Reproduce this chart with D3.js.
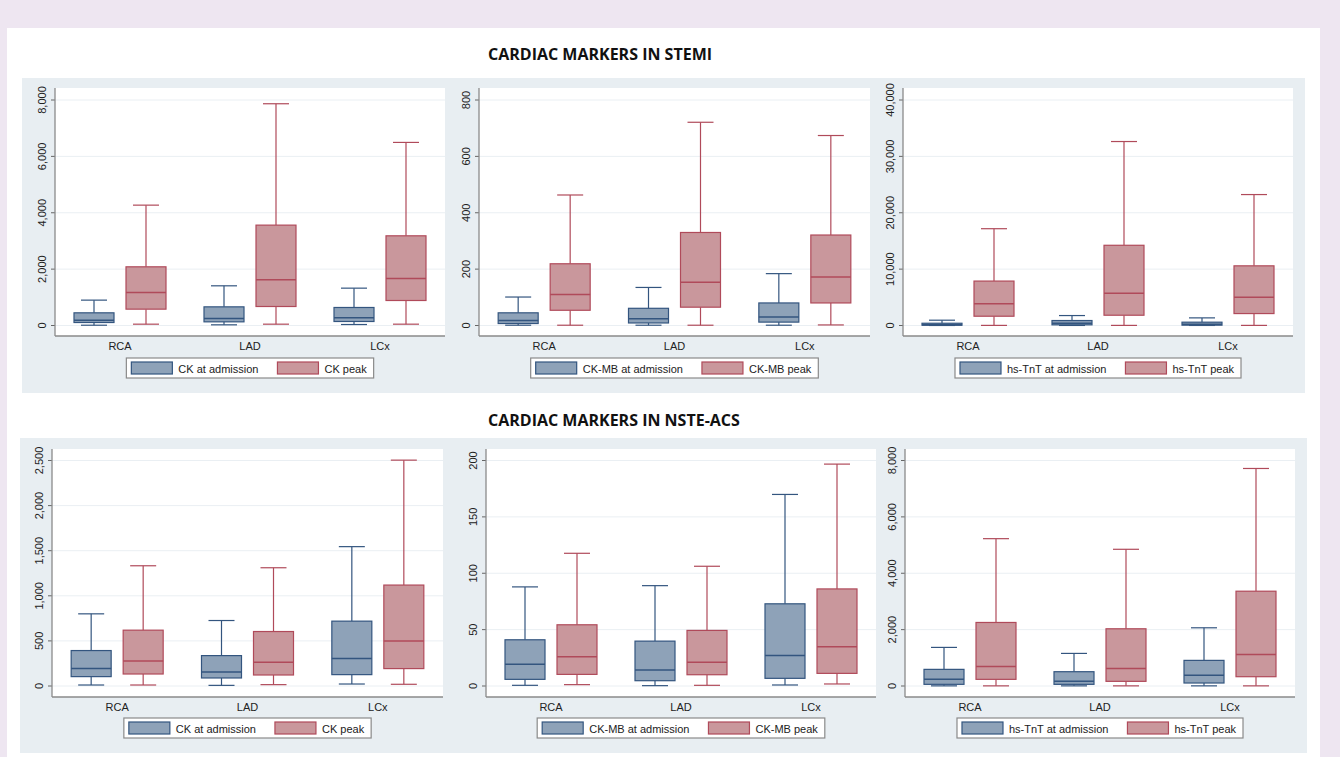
<!DOCTYPE html>
<html>
<head>
<meta charset="utf-8">
<script src="https://cdn.jsdelivr.net/npm/d3@7"></script>
<style>
body { margin: 0; background: #eee6f1; }
text { font-family: "Liberation Sans", Arial, sans-serif; }
</style>
</head>
<body>
<div id="chart"></div>
<script>
// data: each row is [lower whisker, q1, median, q3, upper whisker] for RCA, LAD, LCx
const categories = ['RCA', 'LAD', 'LCx'];

const stemiCkAdm = [[10, 106, 190, 450, 900], [24, 130, 248, 662, 1408], [35, 142, 272, 639, 1325]];
const stemiCkPeak = [[47, 580, 1171, 2082, 4270], [47, 674, 1620, 3561, 7867], [47, 887, 1668, 3182, 6495]];
const stemiMbAdm = [[1, 7, 18, 45, 101], [1, 9, 24, 61, 135], [1, 12, 30, 80, 184]];
const stemiMbPeak = [[1, 54, 110, 219, 463], [1, 65, 153, 330, 721], [2, 80, 172, 321, 674]];
const stemiTntAdm = [[5, 50, 150, 400, 941], [10, 118, 412, 882, 1764], [10, 59, 235, 588, 1352]];
const stemiTntPeak = [[20, 1646, 3880, 7880, 17170], [20, 1823, 5704, 14230, 32634], [20, 2117, 5000, 10584, 23226]];

const nsteCkAdm = [[11, 104, 193, 393, 800], [7, 89, 156, 337, 726], [22, 126, 304, 719, 1545]];
const nsteCkPeak = [[11, 133, 278, 619, 1333], [15, 122, 263, 604, 1311], [19, 193, 500, 1119, 2504]];
const nsteMbAdm = [[0.6, 5.9, 19.2, 41, 87.9], [0.3, 4.7, 14.2, 39.8, 89], [0.9, 6.8, 27.1, 72.9, 169.9]];
const nsteMbPeak = [[1.2, 10.3, 26, 54.3, 117.7], [0.6, 10, 21, 49.3, 106.2], [1.8, 11.2, 34.8, 86.1, 196.8]];
const nsteTntAdm = [[5, 59, 236, 590, 1369], [5, 59, 165, 507, 1156], [5, 106, 378, 909, 2065]];
const nsteTntPeak = [[5, 236, 696, 2254, 5227], [5, 165, 625, 2030, 4850], [5, 330, 1121, 3363, 7717]];

const ticksCk8000 = [0, 2000, 4000, 6000, 8000];
const ticksMb800 = [0, 200, 400, 600, 800];
const ticksTnt40000 = [0, 10000, 20000, 30000, 40000];
const ticksCk2500 = [0, 500, 1000, 1500, 2000, 2500];
const ticksMb200 = [0, 50, 100, 150, 200];
const ticksTnt8000 = [0, 2000, 4000, 6000, 8000];

const legendCk = ['CK at admission', 'CK peak'];
const legendMb = ['CK-MB at admission', 'CK-MB peak'];
const legendTnt = ['hs-TnT at admission', 'hs-TnT peak'];

const titles = ['CARDIAC MARKERS IN STEMI', 'CARDIAC MARKERS IN NSTE-ACS'];

const W = 1340, H = 757;
const blueFill = '#8ea2b8', blueLine = '#33557f';
const redFill = '#c9979c', redLine = '#b04a5a';

const svg = d3.select('#chart').append('svg')
    .attr('width', W)
    .attr('height', H);

svg.append('rect').attr('width', W).attr('height', H).attr('fill', '#eee6f1');
svg.append('rect').attr('x', 7).attr('y', 28).attr('width', 1313).attr('height', H - 28).attr('fill', '#ffffff');

// light blue-gray strip behind each row of graphs
svg.append('rect').attr('x', 22).attr('y', 78).attr('width', 1283).attr('height', 315).attr('fill', '#e8eef2');
svg.append('rect').attr('x', 20).attr('y', 438).attr('width', 1287).attr('height', 315).attr('fill', '#e8eef2');

svg.append('text').attr('x', 488).attr('y', 60)
    .style('font-family', '"Open Sans", sans-serif').style('font-weight', 700).style('font-size', '16px')
    .attr('fill', '#111').text(titles[0]);
svg.append('text').attr('x', 488).attr('y', 426)
    .style('font-family', '"Open Sans", sans-serif').style('font-weight', 700).style('font-size', '16px')
    .attr('fill', '#111').text(titles[1]);

const panels = [
    {adm: stemiCkAdm, peak: stemiCkPeak, ticks: ticksCk8000, names: legendCk, left: 55, right: 445, top: 88, bottom: 336, y0: 325.5, y1: 100, legY: 358},
    {adm: stemiMbAdm, peak: stemiMbPeak, ticks: ticksMb800, names: legendMb, left: 479, right: 870, top: 88, bottom: 336, y0: 325.5, y1: 100, legY: 358},
    {adm: stemiTntAdm, peak: stemiTntPeak, ticks: ticksTnt40000, names: legendTnt, left: 903, right: 1293, top: 88, bottom: 336, y0: 325.5, y1: 100, legY: 358},
    {adm: nsteCkAdm, peak: nsteCkPeak, ticks: ticksCk2500, names: legendCk, left: 52, right: 443, top: 449, bottom: 697, y0: 686, y1: 460.5, legY: 718},
    {adm: nsteMbAdm, peak: nsteMbPeak, ticks: ticksMb200, names: legendMb, left: 486, right: 876, top: 449, bottom: 697, y0: 686, y1: 460.5, legY: 718},
    {adm: nsteTntAdm, peak: nsteTntPeak, ticks: ticksTnt8000, names: legendTnt, left: 905, right: 1295, top: 449, bottom: 697, y0: 686, y1: 460.5, legY: 718}
];

panels.forEach(p => drawPanel(p));

function drawPanel(p) {
    const g = svg.append('g');

    let x = d3.scaleBand().domain(categories).range([p.left, p.right]);
    let sub = d3.scaleBand().domain(['adm', 'peak']).range([x.bandwidth() / 2 - 52, x.bandwidth() / 2 + 52]);
    let y = d3.scaleLinear().domain([0, d3.max(p.ticks)]).range([p.y0, p.y1]);

    g.append('rect')
        .attr('x', p.left).attr('y', p.top)
        .attr('width', p.right - p.left).attr('height', p.bottom - p.top)
        .attr('fill', '#ffffff');

    // grid
    g.selectAll('.grid').data(p.ticks).enter()
        .append('line')
        .attr('x1', p.left).attr('x2', p.right)
        .attr('y1', d => y(d)).attr('y2', d => y(d))
        .attr('stroke', '#eaeff3').attr('stroke-width', 1);

    // y axis ticks + rotated labels
    let yAxis = d3.axisLeft(y).tickValues(p.ticks).tickSize(4).tickSizeOuter(0).tickFormat(d3.format(','));
    let yg = g.append('g').attr('transform', 'translate(' + p.left + ',0)').call(yAxis);
    yg.select('.domain').remove();
    yg.selectAll('line').attr('stroke', '#666');
    yg.selectAll('text')
        .attr('x', null).attr('dy', null)
        .attr('transform', d => 'translate(-9,' + y(d) + ') rotate(-90)')
        .attr('y', 0)
        .attr('text-anchor', 'middle')
        .style('font-size', '11px').attr('fill', '#222');
    yg.selectAll('.tick').attr('transform', null);
    yg.selectAll('.tick line').attr('y1', d => y(d)).attr('y2', d => y(d));

    // x axis labels
    let xAxis = d3.axisBottom(x).tickSize(0).tickPadding(6);
    let xg = g.append('g').attr('transform', 'translate(0,' + p.bottom + ')').call(xAxis);
    xg.select('.domain').remove();
    xg.selectAll('text').style('font-size', '11px').attr('fill', '#222');

    // axis lines
    g.append('line').attr('x1', p.left).attr('x2', p.left).attr('y1', p.top).attr('y2', p.bottom)
        .attr('stroke', '#8a8a8a').attr('stroke-width', 1.3);
    g.append('line').attr('x1', p.left).attr('x2', p.right).attr('y1', p.bottom).attr('y2', p.bottom)
        .attr('stroke', '#8a8a8a').attr('stroke-width', 1.3);

    const series = [
        {key: 'adm', data: p.adm, fill: blueFill, line: blueLine},
        {key: 'peak', data: p.peak, fill: redFill, line: redLine}
    ];
    const boxW = 40, capW = 26;

    series.forEach(s => {
        let boxes = g.selectAll('.box-' + s.key)
            .data(s.data.map((v, i) => ({cat: categories[i], v: v})))
            .enter()
            .append('g');

        let cx = d => x(d.cat) + sub(s.key) + sub.bandwidth() / 2;

        // whiskers
        boxes.append('line')
            .attr('x1', cx).attr('x2', cx)
            .attr('y1', d => y(d.v[4])).attr('y2', d => y(d.v[3]))
            .attr('stroke', s.line).attr('stroke-width', 1.2);
        boxes.append('line')
            .attr('x1', cx).attr('x2', cx)
            .attr('y1', d => y(d.v[1])).attr('y2', d => y(d.v[0]))
            .attr('stroke', s.line).attr('stroke-width', 1.2);
        boxes.append('line')
            .attr('x1', d => cx(d) - capW / 2).attr('x2', d => cx(d) + capW / 2)
            .attr('y1', d => y(d.v[4])).attr('y2', d => y(d.v[4]))
            .attr('stroke', s.line).attr('stroke-width', 1.2);
        boxes.append('line')
            .attr('x1', d => cx(d) - capW / 2).attr('x2', d => cx(d) + capW / 2)
            .attr('y1', d => y(d.v[0])).attr('y2', d => y(d.v[0]))
            .attr('stroke', s.line).attr('stroke-width', 1.2);

        // box
        boxes.append('rect')
            .attr('x', d => cx(d) - boxW / 2)
            .attr('y', d => y(d.v[3]))
            .attr('width', boxW)
            .attr('height', d => y(d.v[1]) - y(d.v[3]))
            .attr('fill', s.fill)
            .attr('stroke', s.line).attr('stroke-width', 1.2);

        // median
        boxes.append('line')
            .attr('x1', d => cx(d) - boxW / 2).attr('x2', d => cx(d) + boxW / 2)
            .attr('y1', d => y(d.v[2])).attr('y2', d => y(d.v[2]))
            .attr('stroke', s.line).attr('stroke-width', 1.5);
    });

    // legend, centred under the plot
    let leg = g.append('g');
    let frame = leg.append('rect')
        .attr('y', p.legY).attr('height', 20)
        .attr('fill', '#ffffff').attr('stroke', '#8a8a8a').attr('stroke-width', 1.2);
    let cursor = 5;
    let items = [];
    series.forEach((s, i) => {
        let sw = leg.append('rect')
            .attr('x', cursor).attr('y', p.legY + 4)
            .attr('width', 41).attr('height', 12)
            .attr('fill', s.fill).attr('stroke', s.line).attr('stroke-width', 1.2);
        cursor += 41 + 6;
        let t = leg.append('text')
            .attr('x', cursor).attr('y', p.legY + 14.5)
            .style('font-size', '11px').attr('fill', '#222')
            .text(p.names[i]);
        cursor += t.node().getComputedTextLength();
        cursor += (i == 0) ? 19 : 7;
        items.push(sw, t);
    });
    let legW = cursor;
    let lx = (p.left + p.right) / 2 - legW / 2;
    frame.attr('x', 0).attr('width', legW);
    leg.attr('transform', 'translate(' + lx + ',0)');
}
</script>
</body>
</html>
